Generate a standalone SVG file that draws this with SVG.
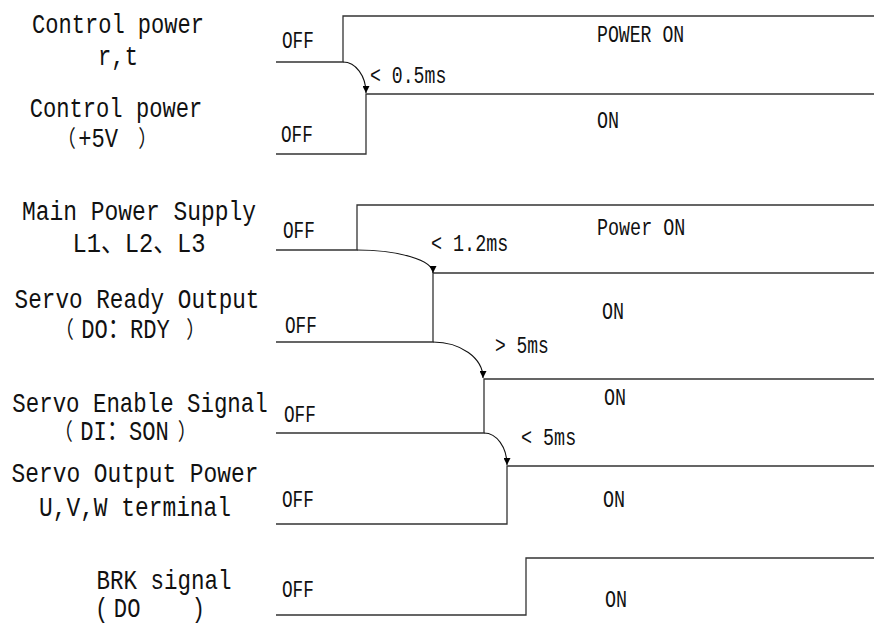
<svg xmlns="http://www.w3.org/2000/svg" width="874" height="627" viewBox="0 0 874 627">
<defs>
<style>
.lbl{font-family:"Liberation Mono","Noto Sans CJK SC",monospace;font-size:27px;fill:#111;text-anchor:middle}
.lbs{font-family:"Liberation Mono","Noto Sans CJK SC",monospace;font-size:27px;fill:#111;text-anchor:start}
.sm{font-family:"Liberation Mono","Noto Sans CJK SC",monospace;font-size:23px;fill:#111}
.par{font-family:"Noto Sans CJK SC",sans-serif;font-size:23px}
.sig{fill:none;stroke:#333;stroke-width:1.3}
.arc{fill:none;stroke:#111;stroke-width:1.1}
</style>
<marker id="ah" viewBox="0 0 10 10" refX="10" refY="5" markerWidth="7" markerHeight="7" markerUnits="userSpaceOnUse" orient="auto">
<path d="M0,0 L10,5 L0,10 z" fill="#000"/>
</marker>
</defs>
<rect width="874" height="627" fill="#fff"/>

<g id="sig-control-rt">
<text class="lbl" transform="translate(118,33) scale(0.817,1)">Control power</text>
<text class="lbl" transform="translate(118,65) scale(0.82,1)">r,t</text>
<polyline class="sig" points="276,62 343,62 343,16 874,16"/>
<text class="sm" transform="translate(282,48) scale(0.77,1)">OFF</text>
<text class="sm" transform="translate(597,42) scale(0.79,1)">POWER ON</text>
</g>

<g id="sig-control-5v">
<text class="lbl" transform="translate(116,117) scale(0.82,1)">Control power</text>
<text class="lbs" transform="translate(57,147) scale(0.82,1)"><tspan class="par" x="0">（</tspan><tspan x="26">+5V</tspan><tspan class="par" x="99">）</tspan></text>
<polyline class="sig" points="276,154 366,154 366,94 874,94"/>
<text class="sm" transform="translate(281,142) scale(0.77,1)">OFF</text>
<text class="sm" transform="translate(597,128) scale(0.8,1)">ON</text>
</g>

<g id="sig-main-power">
<text class="lbl" transform="translate(139,220) scale(0.85,1)">Main Power Supply</text>
<text class="lbl" transform="translate(139,252) scale(0.88,1)">L1、L2、L3</text>
<polyline class="sig" points="276,250 357,250 357,205 874,205"/>
<text class="sm" transform="translate(283,238) scale(0.77,1)">OFF</text>
<text class="sm" transform="translate(597,235) scale(0.8,1)">Power ON</text>
</g>

<g id="sig-ready">
<text class="lbl" transform="translate(137,308) scale(0.84,1)">Servo Ready Output</text>
<text class="lbs" transform="translate(55,338) scale(0.82,1)"><tspan class="par" x="0">（</tspan><tspan x="32">DO：RDY</tspan><tspan class="par" x="160">）</tspan></text>
<polyline class="sig" points="276,342 433,342 433,273 874,273"/>
<text class="sm" transform="translate(285,333) scale(0.77,1)">OFF</text>
<text class="sm" transform="translate(602,319) scale(0.8,1)">ON</text>
</g>

<g id="sig-enable">
<text class="lbl" transform="translate(140,412) scale(0.83,1)">Servo Enable Signal</text>
<text class="lbs" transform="translate(54,440) scale(0.82,1)"><tspan class="par" x="0">（</tspan><tspan x="32">DI：SON</tspan><tspan class="par" x="151">）</tspan></text>
<polyline class="sig" points="276,433 484,433 484,379 874,379"/>
<text class="sm" transform="translate(284,422) scale(0.77,1)">OFF</text>
<text class="sm" transform="translate(604,405) scale(0.8,1)">ON</text>
</g>

<g id="sig-output">
<text class="lbl" transform="translate(135,482) scale(0.847,1)">Servo Output Power</text>
<text class="lbl" transform="translate(135,516) scale(0.847,1)">U,V,W terminal</text>
<polyline class="sig" points="276,524 507,524 507,466 874,466"/>
<text class="sm" transform="translate(282,507) scale(0.77,1)">OFF</text>
<text class="sm" transform="translate(603,507) scale(0.8,1)">ON</text>
</g>

<g id="sig-brk">
<text class="lbl" transform="translate(164,589) scale(0.833,1)">BRK signal</text>
<text class="lbs" transform="translate(95,617) scale(0.82,1)"><tspan x="0">(</tspan><tspan x="23">DO</tspan><tspan x="118">)</tspan></text>
<polyline class="sig" points="276,615 526,615 526,558 874,558"/>
<text class="sm" transform="translate(282,597) scale(0.77,1)">OFF</text>
<text class="sm" transform="translate(605,607) scale(0.8,1)">ON</text>
</g>

<g id="connectors">
<path class="arc" d="M343,62 A23 31 0 0 1 366,93" marker-end="url(#ah)"/>
<path class="arc" d="M357,250 A76 23 0 0 1 433,273" marker-end="url(#ah)"/>
<path class="arc" d="M433,342 A50 36 0 0 1 483,378" marker-end="url(#ah)"/>
<path class="arc" d="M484,433 A23 32 0 0 1 507,465" marker-end="url(#ah)"/>
<text class="sm" transform="translate(370,83) scale(0.79,1)">&lt; 0.5ms</text>
<text class="sm" transform="translate(431,251) scale(0.8,1)">&lt; 1.2ms</text>
<text class="sm" transform="translate(495,353) scale(0.78,1)">&gt; 5ms</text>
<text class="sm" transform="translate(521,445) scale(0.8,1)">&lt; 5ms</text>
</g>
</svg>
